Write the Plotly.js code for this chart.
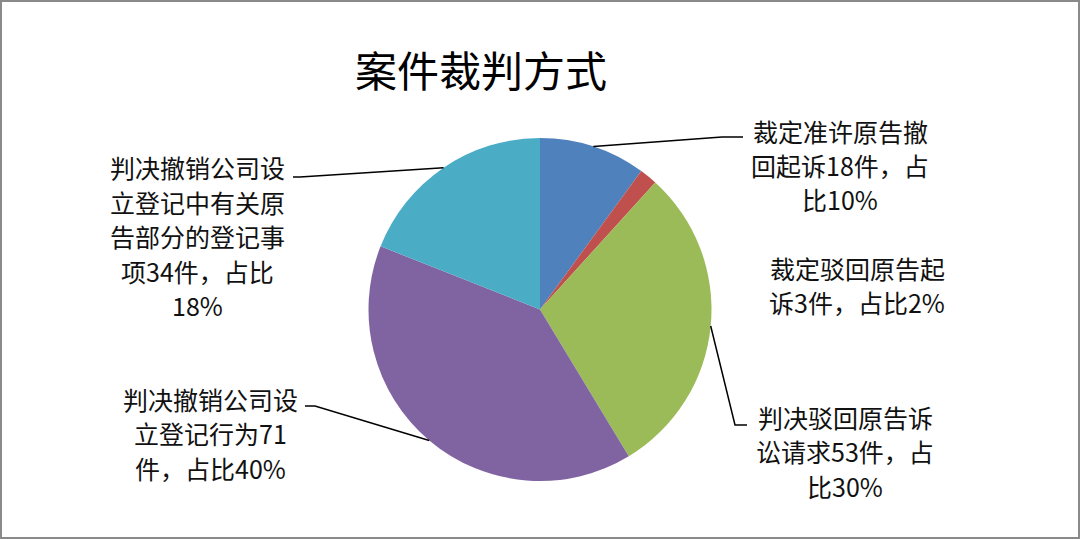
<!DOCTYPE html>
<html>
<head>
<meta charset="utf-8">
<script src="https://cdn.plot.ly/plotly-3.0.1.min.js"></script>
<style>
  html, body { margin: 0; padding: 0; background: #fff; }
  #chart { width: 1080px; height: 539px; }
</style>
</head>
<body>
<div id="chart"></div>
<script>
// ---- data ----
const chartTitle = "案件裁判方式";
const categories = [
  "裁定准许原告撤回起诉",
  "裁定驳回原告起诉",
  "判决驳回原告诉讼请求",
  "判决撤销公司设立登记行为",
  "判决撤销公司设立登记中有关原告部分的登记事项"
];
const values = [18, 3, 53, 71, 34];
const labelTexts = [
  "裁定准许原告撤<br>回起诉18件，占<br>比10%",
  "裁定驳回原告起<br>诉3件，占比2%",
  "判决驳回原告诉<br>讼请求53件，占<br>比30%",
  "判决撤销公司设<br>立登记行为71<br>件，占比40%",
  "判决撤销公司设<br>立登记中有关原<br>告部分的登记事<br>项34件，占比<br>18%"
];
const colors = ["#4F81BD", "#C0504D", "#9BBB59", "#8064A2", "#4BACC6"];

// ---- layout geometry (pixels) ----
const W = 1080, H = 539;
const cx = 540, cy = 309.5, R = 171.5;
const lineGap = 34.5;
// label block centers
const labelPos = [
  [840, 165], [857, 285], [845, 451], [210, 433], [197, 236]
];
// leader lines: [label-side end, elbow]  (null = no leader)
const leaders = [
  [[743, 137], [722, 137]],
  null,
  [[747, 425], [735, 425]],
  [[305, 406], [315, 406]],
  [[293, 177], [300, 177]]
];

const px = x => x / W;
const py = y => 1 - y / H;

const total = values.reduce((a, b) => a + b, 0);
let cum = 0;
const shapes = [];
const annotations = [];
values.forEach((v, i) => {
  const th = 2 * Math.PI * (cum + v / 2) / total;
  cum += v;
  const ex = cx + R * Math.sin(th), ey = cy - R * Math.cos(th);
  const ld = leaders[i];
  if (ld) {
    const p = `M ${px(ld[0][0])} ${py(ld[0][1])} L ${px(ld[1][0])} ${py(ld[1][1])} L ${px(ex)} ${py(ey)}`;
    shapes.push({ type: "path", xref: "paper", yref: "paper", path: p,
      line: { color: "#000", width: 1.5 } });
  }
  const lines = labelTexts[i].split("<br>");
  const n = lines.length;
  lines.forEach((t, k) => {
    const yy = labelPos[i][1] + (k - (n - 1) / 2) * lineGap;
    annotations.push({
      xref: "paper", yref: "paper",
      x: px(labelPos[i][0]), y: py(yy),
      xanchor: "center", yanchor: "middle", align: "center",
      text: t, showarrow: false,
      font: { family: "Noto Sans CJK SC, sans-serif", size: 25, color: "#111" }
    });
  });
});

// outer frame
shapes.push({ type: "rect", xref: "paper", yref: "paper", x0: 0, y0: 0, x1: 1, y1: 1,
  line: { color: "#8a8a8a", width: 4 } });

const trace = {
  type: "pie",
  values: values,
  labels: categories,
  sort: false,
  direction: "clockwise",
  rotation: 0,
  textinfo: "none",
  hoverinfo: "none",
  marker: { colors: colors, line: { width: 0 } },
  domain: { x: [px(cx - R), px(cx + R)], y: [py(cy + R), py(cy - R)] },
  showlegend: false
};

const layout = {
  width: W, height: H,
  margin: { l: 0, r: 0, t: 0, b: 0 },
  paper_bgcolor: "#fff",
  title: {
    text: chartTitle,
    x: px(481), xref: "paper", xanchor: "center",
    y: py(72), yref: "paper", yanchor: "middle",
    font: { family: "Noto Sans CJK SC, sans-serif", size: 42, color: "#000" }
  },
  shapes: shapes,
  annotations: annotations,
  showlegend: false
};

Plotly.newPlot("chart", [trace], layout, { displayModeBar: false, staticPlot: true });
</script>
</body>
</html>
